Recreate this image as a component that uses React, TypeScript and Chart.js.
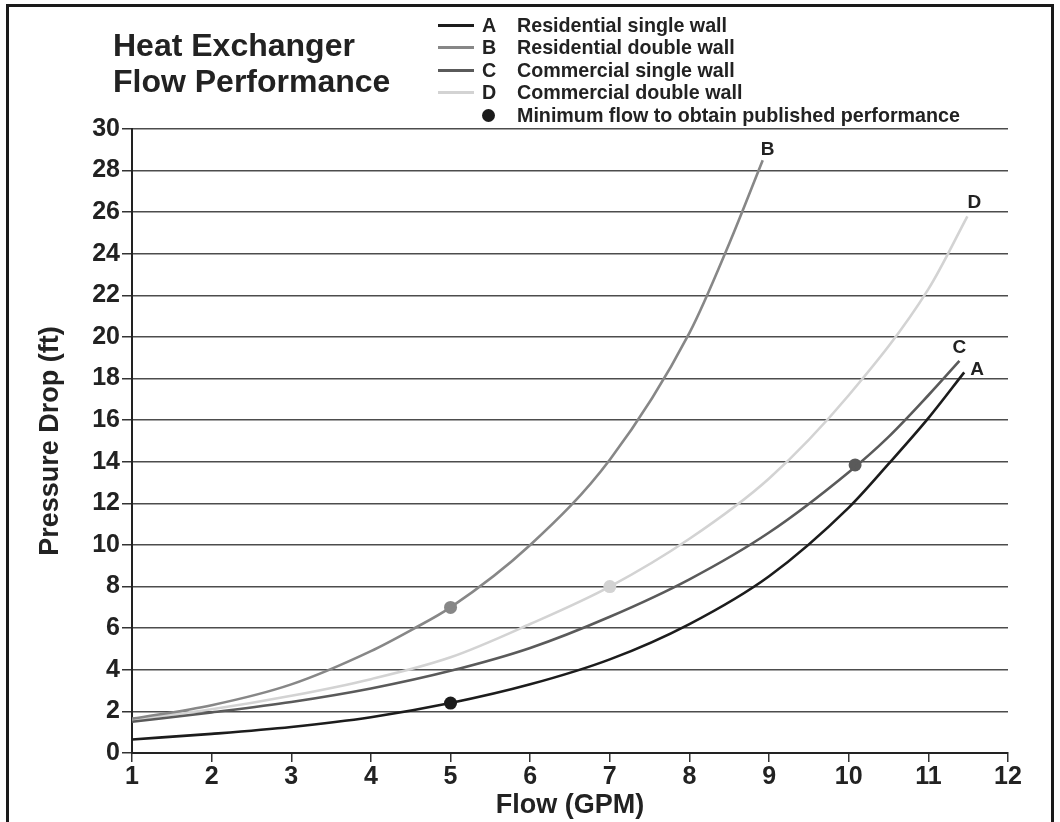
import React, { useEffect, useRef } from "react";
import { Chart, registerables } from "chart.js";

Chart.register(...registerables);

// ---- data ----
const flowTicks = [1, 2, 3, 4, 5, 6, 7, 8, 9, 10, 11, 12];
const dropTicks = [0, 2, 4, 6, 8, 10, 12, 14, 16, 18, 20, 22, 24, 26, 28, 30];

const seriesNames = ["A", "B", "C", "D"];
const seriesLabels = [
  "Residential single wall",
  "Residential double wall",
  "Commercial single wall",
  "Commercial double wall",
];
const markerLabel = "Minimum flow to obtain published performance";

const flowA = [1, 2, 3, 4, 5, 6, 7, 8, 9, 10, 10.5, 11, 11.45];
const dropA = [0.65, 0.92, 1.25, 1.72, 2.4, 3.3, 4.5, 6.2, 8.5, 11.8, 13.9, 16.1, 18.3];

const flowB = [1, 2, 3, 4, 4.5, 5, 6, 7, 8, 8.5, 8.92];
const dropB = [1.65, 2.3, 3.3, 4.9, 5.9, 7.0, 10.0, 14.1, 20.2, 24.5, 28.5];

const flowC = [1, 2, 3, 4, 5, 6, 7, 8, 9, 10, 10.5, 11, 11.39];
const dropC = [1.5, 1.95, 2.45, 3.1, 3.95, 5.05, 6.55, 8.35, 10.6, 13.5, 15.2, 17.2, 18.85];

const flowD = [1, 2, 3, 4, 5, 6, 7, 8, 9, 10, 11, 11.49];
const dropD = [1.6, 2.1, 2.75, 3.55, 4.6, 6.2, 8.0, 10.3, 13.2, 17.2, 22.3, 25.8];

// minimum flow points (A, B, C, D)
const minFlow = [5, 5, 10.08, 7];
const minDrop = [2.4, 7.0, 13.85, 8.0];

// ---- styles ----
const colors = ["#1c1c1c", "#878787", "#5a5a5a", "#d3d3d3"];
const labelOffsets = [
  [13, -3],
  [5, -10],
  [0, -13],
  [7, -14],
];
const FONT = '"Liberation Sans", Arial, Helvetica, sans-serif';

const flows = [flowA, flowB, flowC, flowD];
const drops = [dropA, dropB, dropC, dropD];

const endLabelPlugin = {
  id: "endLabels",
  afterDatasetsDraw(chart: any) {
    const { ctx, scales } = chart;
    ctx.save();
    ctx.font = `bold 19px ${FONT}`;
    ctx.fillStyle = "#222";
    ctx.textAlign = "center";
    ctx.textBaseline = "middle";
    seriesNames.forEach((name, i) => {
      const fx = flows[i][flows[i].length - 1];
      const fy = drops[i][drops[i].length - 1];
      const px = scales.x.getPixelForValue(fx) + labelOffsets[i][0];
      const py = scales.y.getPixelForValue(fy) + labelOffsets[i][1];
      ctx.fillText(name, px, py);
    });
    ctx.restore();
  },
};

export default function App() {
  const ref = useRef<HTMLCanvasElement>(null);

  useEffect(() => {
    document.body.style.margin = "0";
    document.body.style.overflow = "hidden";
    const lineSets = seriesNames.map((name, i) => ({
      label: name,
      data: flows[i].map((x, k) => ({ x, y: drops[i][k] })),
      borderColor: colors[i],
      borderWidth: 2.6,
      pointRadius: 0,
      fill: false,
      cubicInterpolationMode: "monotone" as const,
    }));
    const markerSet = {
      label: "min",
      data: minFlow.map((x, k) => ({ x, y: minDrop[k] })),
      showLine: false,
      pointRadius: 6.5,
      pointBackgroundColor: colors,
      pointBorderColor: colors,
      pointBorderWidth: 0,
    };
    const chart = new Chart(ref.current!, {
      type: "line",
      data: { datasets: [...lineSets, markerSet] as any },
      options: {
        responsive: false,
        animation: false,
        devicePixelRatio: 1,
        layout: { padding: { left: 0, top: 129, right: 52, bottom: 0 } },
        plugins: {
          legend: { display: false },
          tooltip: { enabled: false },
        },
        scales: {
          x: {
            type: "linear",
            min: 1,
            max: 12,
            afterFit: (s: any) => {
              s.height = 69;
            },
            afterBuildTicks: (s: any) => {
              s.ticks = flowTicks.map((v) => ({ value: v }));
            },
            ticks: {
              font: { family: FONT, size: 25, weight: "bold" },
              color: "#222",
              padding: 0,
              maxRotation: 0,
            },
            grid: {
              drawOnChartArea: false,
              drawTicks: true,
              tickLength: 9,
              tickColor: "#333",
              lineWidth: 1.5,
            },
            border: { display: true, color: "#222", width: 2 },
            title: {
              display: true,
              text: "Flow (GPM)",
              font: { family: FONT, size: 27, weight: "bold" },
              color: "#222",
              padding: { top: 0, bottom: 0 },
            },
          },
          y: {
            type: "linear",
            min: 0,
            max: 30,
            afterFit: (s: any) => {
              s.width = 132;
            },
            afterBuildTicks: (s: any) => {
              s.ticks = dropTicks.map((v) => ({ value: v }));
            },
            ticks: {
              font: { family: FONT, size: 25, weight: "bold" },
              color: "#222",
              padding: 2,
            },
            grid: {
              color: "#4d4d4d",
              lineWidth: 1.5,
              drawTicks: true,
              tickLength: 10,
              tickColor: "#333",
            },
            border: { display: true, color: "#222", width: 2 },
            title: {
              display: true,
              text: "Pressure Drop (ft)",
              font: { family: FONT, size: 27, weight: "bold" },
              color: "#222",
              padding: { top: 34, bottom: 0 },
            },
          },
        },
      },
      plugins: [endLabelPlugin],
    });
    return () => chart.destroy();
  }, []);

  const rowH = 22.5;
  return (
    <div
      style={{
        position: "relative",
        width: 1060,
        height: 822,
        overflow: "hidden",
        background: "#fff",
        fontFamily: FONT,
        color: "#222",
      }}
    >
      <canvas
        ref={ref}
        width={1060}
        height={822}
        style={{ position: "absolute", left: 0, top: 0, width: 1060, height: 822 }}
      />
      <div
        style={{
          position: "absolute",
          left: 6,
          top: 4,
          width: 1048,
          height: 840,
          boxSizing: "border-box",
          border: "3px solid #1a1a1a",
          pointerEvents: "none",
        }}
      />
      <div
        style={{
          position: "absolute",
          left: 113,
          top: 27,
          fontSize: 32,
          lineHeight: "36px",
          fontWeight: "bold",
          whiteSpace: "nowrap",
        }}
      >
        <div>Heat Exchanger</div>
        <div>Flow Performance</div>
      </div>
      <div style={{ position: "absolute", left: 438, top: 13.75, fontSize: 19.7, fontWeight: "bold" }}>
        {seriesNames.map((name, i) => (
          <div key={name} style={{ display: "flex", alignItems: "center", height: rowH, whiteSpace: "nowrap" }}>
            <div style={{ width: 36, height: 3, background: colors[i] }} />
            <div style={{ width: 35, paddingLeft: 8, boxSizing: "content-box" }}>{name}</div>
            <div>{seriesLabels[i]}</div>
          </div>
        ))}
        <div style={{ display: "flex", alignItems: "center", height: rowH, whiteSpace: "nowrap" }}>
          <div style={{ width: 44, height: 3 }} />
          <div style={{ width: 35, position: "relative", height: rowH }}>
            <div
              style={{
                position: "absolute",
                left: 0,
                top: (rowH - 13) / 2,
                width: 13,
                height: 13,
                borderRadius: "50%",
                background: "#1c1c1c",
              }}
            />
          </div>
          <div>{markerLabel}</div>
        </div>
      </div>
    </div>
  );
}
